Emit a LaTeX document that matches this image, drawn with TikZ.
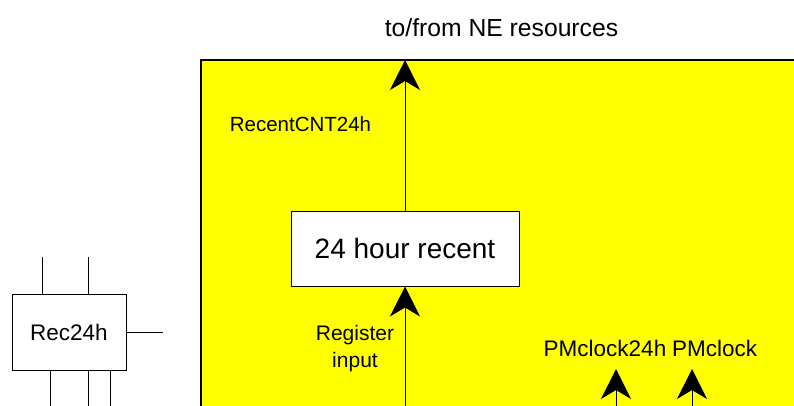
\documentclass[tikz,border=0pt]{standalone}
\usepackage{fontspec}
\setmainfont{Liberation Sans}
\usetikzlibrary{arrows.meta}
\definecolor{bgyellow}{RGB}{255,255,0}
\begin{document}
\begin{tikzpicture}[x=1pt,y=-1pt,
  box/.style={draw=black,line width=1pt,fill=white,inner sep=0pt,anchor=center},
  lbl/.style={inner sep=0pt,font=\fontsize{21}{27}\selectfont,align=center},
  wire/.style={draw=black,line width=1pt},
  arr/.style={wire,-{Stealth[length=30pt,width=30pt,inset=9pt]}}]
\clip (0,0) rectangle (794,406);
\fill[white] (0,0) rectangle (794,406);
\filldraw[fill=bgyellow,draw=black,line width=1.2pt] (201,60) rectangle (820,430);
% title
\node[lbl,font=\fontsize{24.7}{28}\selectfont] (title) at (501.5,28) {to/from NE resources};
% 24 hour recent
\node[box,minimum width=228pt,minimum height=75pt,font=\fontsize{28}{32}\selectfont] (recent) at (405,248.5) {24 hour recent};
\coordinate (ne) at (405,60);
\coordinate (regin) at (405,420);
\draw[arr] (recent.north) -- (ne);
\draw[arr] (regin) -- (recent.south);
\node[lbl,font=\fontsize{20.5}{27}\selectfont] (cnt) at (300.5,124) {RecentCNT24h};
\node[lbl] (reg) at (355,348.5) {Register\\input};
% PM clocks
\coordinate (pm24top) at (616,369);
\coordinate (pm24bot) at (616,420);
\coordinate (pmtop) at (692,369);
\coordinate (pmbot) at (692,420);
\draw[arr] (pm24bot) -- (pm24top);
\draw[arr] (pmbot) -- (pmtop);
\node[lbl,font=\fontsize{22.5}{27}\selectfont] (pm24) at (605,348) {PMclock24h};
\node[lbl,font=\fontsize{22.5}{27}\selectfont] (pm) at (714.5,348) {PMclock};
% Rec24h
\node[box,minimum width=114pt,minimum height=76pt,font=\fontsize{22.5}{26}\selectfont] (rec) at (69,332) {Rec24h};
\coordinate (t1) at (42,257);
\coordinate (t2) at (88,257);
\coordinate (r1) at (163,332);
\coordinate (b1) at (50,420);
\coordinate (b2) at (88,420);
\coordinate (b3) at (110,420);
\draw[wire] (rec.north -| t1) -- (t1);
\draw[wire] (rec.north -| t2) -- (t2);
\draw[wire] (rec.east) -- (r1);
\draw[wire] (rec.south -| b1) -- (b1);
\draw[wire] (rec.south -| b2) -- (b2);
\draw[wire] (rec.south -| b3) -- (b3);
\end{tikzpicture}
\end{document}
